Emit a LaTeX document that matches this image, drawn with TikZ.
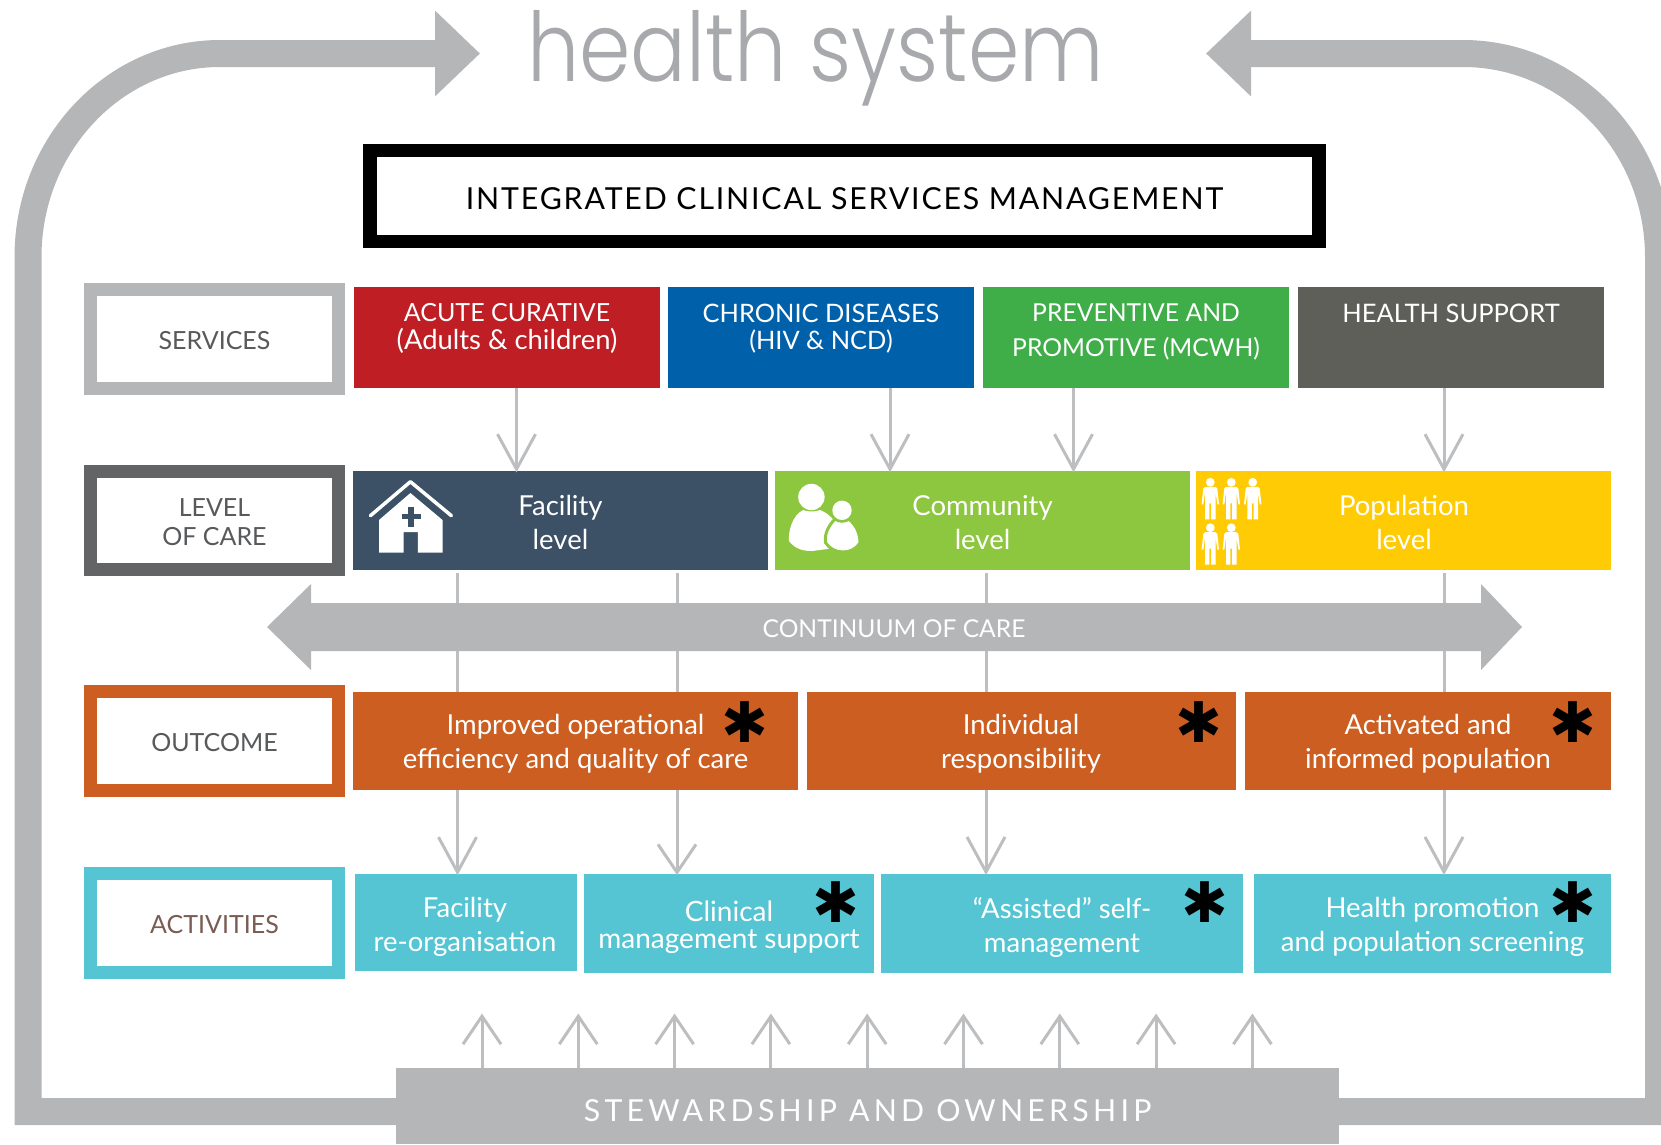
\documentclass[tikz,border=0pt]{standalone}
\usepackage{fontspec}
\setmainfont{Lato}
\newfontfamily\titlefont[FakeStretch=0.86]{Poppins Light}
\newfontfamily\starfont{DejaVu Sans}
\usetikzlibrary{arrows.meta}
\definecolor{framegray}{HTML}{B5B6B8}
\definecolor{flowgray}{HTML}{BCBEC0}
\definecolor{titlegray}{HTML}{A7A9AC}
\definecolor{labelgray}{HTML}{58595B}
\definecolor{activitybrown}{HTML}{7A5C54}
\definecolor{acutered}{HTML}{BE1E24}
\definecolor{chronicblue}{HTML}{0060AA}
\definecolor{prevgreen}{HTML}{3FAE49}
\definecolor{supportgray}{HTML}{5F5F59}
\definecolor{facilitynavy}{HTML}{3D5166}
\definecolor{communitylime}{HTML}{8DC63F}
\definecolor{popyellow}{HTML}{FFCB05}
\definecolor{outcomeorange}{HTML}{CC5E21}
\definecolor{activityteal}{HTML}{56C5D3}
\definecolor{levelgray}{HTML}{636466}
\tikzset{
  sidebox/.style={draw,fill=white,line width=13pt,inner sep=0pt,minimum width=248pt,minimum height=98.5pt},
  sidetext/.style={inner sep=0pt,text=labelgray,align=center,font=\fontsize{25}{29}\selectfont},
  colbox/.style={inner sep=0pt,text=white,align=center},
  boxtext/.style={inner sep=0pt,text=white,align=center,font=\fontsize{27.5}{34}\selectfont},
  capstext/.style={inner sep=0pt,text=white,align=center,anchor=north,font=\fontsize{25}{27.5}\selectfont},
  flow/.style={draw=flowgray,line width=3pt,shorten >=-1.5pt,-{Straight Barb[length=35pt,width=38pt]}},
  shortflow/.style={draw=flowgray,line width=3pt,shorten >=-1.5pt,-{Straight Barb[length=28pt,width=38pt]}},
  plainflow/.style={draw=flowgray,line width=3pt},
  frameline/.style={draw=framegray,line width=27pt,-{Triangle[length=45pt,width=83pt]}},
  starmark/.style={inner sep=0pt,font=\starfont\fontsize{56}{56}\selectfont},
  person/.pic={
    \fill[white] (0,0) circle (4.4);
    \fill[white] (-5,4.5) -- (5,4.5) -- (7,6) -- (8.7,22) -- (7,22) -- (5.3,10) -- (5.3,37) -- (0.9,37) -- (0.9,21) -- (-0.9,21) -- (-0.9,37) -- (-5.3,37) -- (-5.3,10) -- (-7,22) -- (-8.7,22) -- (-7,6) -- cycle;
  },
}
\begin{document}
\begin{tikzpicture}[x=1pt,y=-1pt]
  \clip (0,0) rectangle (1661,1144);
  % title
  \node[inner sep=0pt,anchor=base,text=titlegray,font=\titlefont\fontsize{96}{96}\selectfont] (title) at (815.5,81.7) {health system};
  % bottom bar and the two frame arrows
  \node[inner sep=0pt,fill=framegray,minimum width=943pt,minimum height=76pt] (steward) at (867.5,1106) {};
  \node[inner sep=0pt,text=white,font=\fontsize{30.3}{32}\selectfont\addfontfeature{LetterSpace=14}] (stewardtext) at (867.5,1110.5) {STEWARDSHIP AND OWNERSHIP};
  \coordinate (lefttip) at (480,53.5);
  \coordinate (righttip) at (1206,53.5);
  \draw[frameline] (steward.west |- 0,1111.5) -- (28,1111.5) -- (28,257) .. controls (28,145) and (114,53.5) .. (220,53.5) -- (lefttip);
  \draw[frameline] (steward.east |- 0,1111.5) -- (1658.5,1111.5) -- (1658.5,257) .. controls (1658.5,145) and (1571,53.5) .. (1463,53.5) -- (righttip);
  % management box
  \node[draw=black,fill=white,line width=13.5pt,inner sep=0pt,minimum width=949pt,minimum height=91pt] (manage) at (844.5,196) {};
  \node[inner sep=0pt,font=\fontsize{30.3}{34}\selectfont\addfontfeature{LetterSpace=6}] (managetext) at (844.5,199) {INTEGRATED CLINICAL SERVICES MANAGEMENT};
  % side labels
  \node[sidebox,draw=framegray] (services) at (214.5,339) {};
  \node[sidebox,draw=levelgray] (level) at (214.5,520.5) {};
  \node[sidebox,draw=outcomeorange] (outcome) at (214.5,741) {};
  \node[sidebox,draw=activityteal] (activities) at (214.5,923) {};
  \node[sidetext] (servicestext) at (214.5,341) {SERVICES};
  \node[sidetext] (leveltext) at (214.5,522.5) {LEVEL\\OF CARE};
  \node[sidetext] (outcometext) at (214.5,743) {OUTCOME};
  \node[sidetext,text=activitybrown] (activitiestext) at (214.5,924.5) {ACTIVITIES};
  % services
  \node[colbox,fill=acutered,minimum width=306pt,minimum height=101pt] (acute) at (507,337.5) {};
  \node[colbox,fill=chronicblue,minimum width=306pt,minimum height=101pt] (chronic) at (821,337.5) {};
  \node[colbox,fill=prevgreen,minimum width=306pt,minimum height=101pt] (prevent) at (1136,337.5) {};
  \node[colbox,fill=supportgray,minimum width=306pt,minimum height=101pt] (support) at (1451,337.5) {};
  \node[capstext] (acutetext) at (507,303.5) {ACUTE CURATIVE\\{\fontsize{27.4}{27.5}\selectfont (Adults \& children)}};
  \node[capstext,font=\fontsize{25.4}{27.5}\selectfont] (chronictext) at (821,303.5) {CHRONIC DISEASES\\(HIV \& NCD)};
  \node[capstext,font=\fontsize{24.7}{27.5}\selectfont] (preventtext) at (1136,303.5) {PREVENTIVE AND\\[7.5pt]PROMOTIVE (MCWH)};
  \node[capstext,font=\fontsize{25.5}{27.5}\selectfont] (supporttext) at (1451,303.5) {HEALTH SUPPORT};
  % levels
  \node[colbox,fill=facilitynavy,minimum width=415pt,minimum height=99pt] (facility) at (560.5,520.5) {};
  \node[colbox,fill=communitylime,minimum width=415pt,minimum height=99pt] (community) at (982.5,520.5) {};
  \node[colbox,fill=popyellow,minimum width=415pt,minimum height=99pt] (population) at (1403.5,520.5) {};
  \node[boxtext] (facilitytext) at (560.5,522.5) {Facility\\level};
  \node[boxtext] (communitytext) at (982.5,522.5) {Community\\level};
  \node[boxtext] (populationtext) at (1404,522.5) {Population\\level};
  % outcomes
  \node[colbox,fill=outcomeorange,minimum width=445pt,minimum height=98pt] (operational) at (575.5,741) {};
  \node[colbox,fill=outcomeorange,minimum width=429pt,minimum height=98pt] (individual) at (1021.5,741) {};
  \node[colbox,fill=outcomeorange,minimum width=366pt,minimum height=98pt] (activated) at (1428,741) {};
  \node[boxtext] (operationaltext) at (575.5,744) {Improved operational\\efficiency and quality of care};
  \node[boxtext] (individualtext) at (1021,744) {Individual\\responsibility};
  \node[boxtext] (activatedtext) at (1428,744) {Activated and\\informed population};
  % activities
  \node[colbox,fill=activityteal,minimum width=222pt,minimum height=97pt] (reorg) at (466,922.5) {};
  \node[colbox,fill=activityteal,minimum width=290pt,minimum height=99.5pt] (clinical) at (729,923.5) {};
  \node[colbox,fill=activityteal,minimum width=362pt,minimum height=99.5pt] (selfmgmt) at (1062,923.5) {};
  \node[colbox,fill=activityteal,minimum width=357pt,minimum height=99.5pt] (promotion) at (1432.5,923.5) {};
  \node[boxtext] (reorgtext) at (465,927) {Facility\\re-organisation};
  \node[boxtext,font=\fontsize{28}{26.5}\selectfont] (clinicaltext) at (729,927) {Clinical\\management support};
  \node[boxtext] (selfmgmttext) at (1062,927) {“Assisted” self-\\management};
  \node[boxtext] (promotiontext) at (1432.5,927) {Health promotion\\and population screening};
  % stars
  \node[starmark] (star1) at (745,722) {✱};
  \node[starmark] (star2) at (1199,722) {✱};
  \node[starmark] (star3) at (1572.5,722) {✱};
  \node[starmark] (star4) at (836,902) {✱};
  \node[starmark] (star5) at (1205,902) {✱};
  \node[starmark] (star6) at (1572.5,902) {✱};
  % arrows from services to levels
  \coordinate (cola) at (516.5,0);
  \coordinate (colb) at (890,0);
  \coordinate (colc) at (1073.5,0);
  \coordinate (cold) at (1444,0);
  \draw[flow] (acute.south -| cola) -- (facility.north -| cola);
  \draw[flow] (chronic.south -| colb) -- (community.north -| colb);
  \draw[flow] (prevent.south -| colc) -- (community.north -| colc);
  \draw[flow] (support.south -| cold) -- (population.north -| cold);
  % arrows from levels through to activities
  \coordinate (cole) at (457.5,0);
  \coordinate (colf) at (677,0);
  \coordinate (colg) at (986,0);
  \draw[plainflow] ([yshift=-3pt]facility.south -| cole) -- (operational.north -| cole);
  \draw[plainflow] ([yshift=-3pt]facility.south -| colf) -- (operational.north -| colf);
  \draw[plainflow] ([yshift=-3pt]community.south -| colg) -- (individual.north -| colg);
  \draw[plainflow] ([yshift=-3pt]population.south -| cold) -- (activated.north -| cold);
  \draw[flow] (operational.south -| cole) -- (reorg.north -| cole);
  \draw[shortflow] (operational.south -| colf) -- (clinical.north -| colf);
  \draw[flow] (individual.south -| colg) -- (selfmgmt.north -| colg);
  \draw[flow] (activated.south -| cold) -- (promotion.north -| cold);
  % continuum arrow
  \fill[framegray] (267,627) -- (311,584) -- (311,603) -- (1481,603) -- (1481,584) -- (1522,627) -- (1481,670) -- (1481,651) -- (311,651) -- (311,670) -- cycle;
  \node[inner sep=0pt,text=white,font=\fontsize{24.6}{27}\selectfont] (continuum) at (894,629) {CONTINUUM OF CARE};
  % arrows up from the bottom bar
  \foreach \i in {0,...,8}{
    \coordinate (up\i) at (482+96.3*\i,1015);
    \draw[shortflow] (steward.north -| up\i) -- (up\i);
  }
  % house icon
  \draw[white,line width=3.5pt,line cap=round,line join=round] (370.4,515.7) -- (410.4,481.7) -- (451.4,515.7);
  \fill[white] (410.4,493) -- (442.5,520) -- (442.5,552.7) -- (417.9,552.7) -- (417.9,532) -- (403.6,532) -- (403.6,552.7) -- (379,552.7) -- (379,520) -- cycle;
  \fill[facilitynavy] (408.4,507) rectangle (414.4,526.7);
  \fill[facilitynavy] (402,514) rectangle (421,519.4);
  % people icon
  \fill[white] (811.4,497) circle (13.2);
  \fill[white] (803,510) .. controls (793,515) and (788,530) .. (789,541) .. controls (795,549) and (803,551) .. (812,551) -- (835,548) -- (835,522) .. controls (830,515) and (825,512) .. (820,510) .. controls (815,512) and (808,512) .. (803,510) -- cycle;
  \fill[communitylime] (842,510.3) circle (12);
  \filldraw[fill=white,draw=communitylime,line width=3pt] (835,519) .. controls (828,526) and (824,535) .. (825.7,543) .. controls (830,549) and (836,552) .. (843,552) .. controls (850,552) and (856,549) .. (860,543) .. controls (860,533) and (856,525) .. (849,519) .. controls (845,522) and (839,522) .. (835,519) -- cycle;
  \fill[white] (842,510.3) circle (9.7);
  % population icon
  \foreach \px/\py in {1210.3/482.3,1231.3/482.3,1252.7/482.3,1210.3/527.7,1231.3/527.7}
    \pic at (\px,\py) {person};
\end{tikzpicture}
\end{document}
